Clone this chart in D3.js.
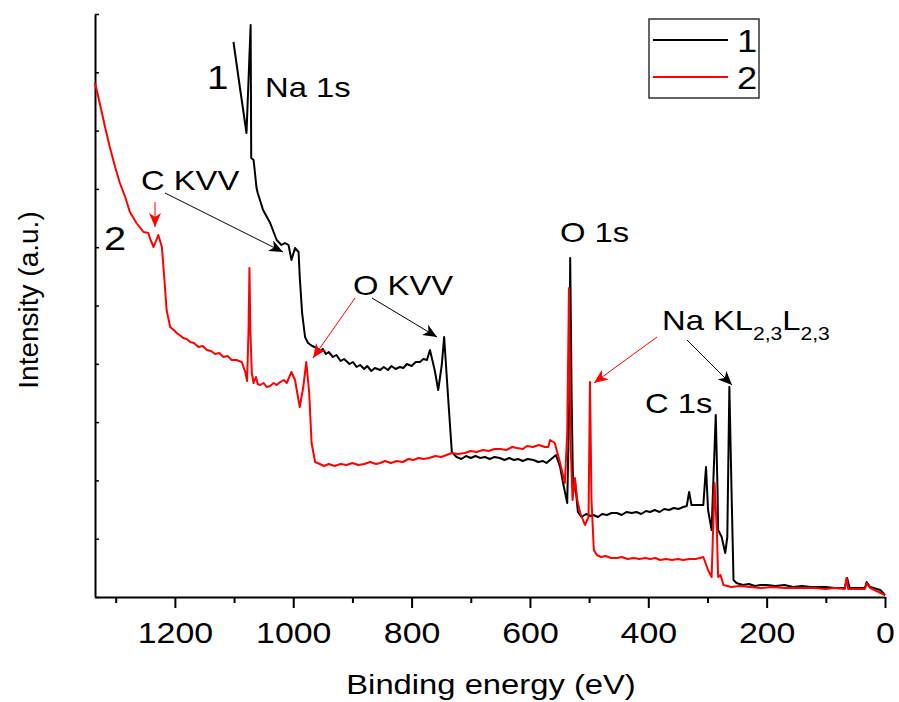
<!DOCTYPE html>
<html>
<head>
<meta charset="utf-8">
<script src="https://cdn.jsdelivr.net/npm/d3@7"></script>
<style>
  body { margin: 0; background: #fff; }
  text { font-family: "Liberation Sans", Arial, sans-serif; fill: #000; }
</style>
</head>
<body>
<svg id="chart" width="899" height="702"></svg>
<script>
// sample 1 (black), binding energy in eV and intensity in a.u.
const energy1 = [
  1101, 1090, 1079, 1072, 1071, 1067, 1062, 1060, 1051, 1039,
  1028, 1020, 1014, 1008, 1003, 997, 991, 989, 985, 980,
  975, 968, 960, 955, 950, 945, 940, 933, 927, 920,
  914, 905, 899, 893, 887, 880, 875, 868, 862, 853,
  847, 840, 834, 827, 820, 814, 808, 800, 793, 786,
  780, 774, 769, 761, 755, 749, 745, 738, 732, 724,
  716, 708, 700, 692, 684, 676, 668, 660, 651, 643,
  635, 627, 620, 612, 604, 594, 586, 578, 572, 566,
  556, 549, 544, 537, 533.5, 532, 529.5, 527, 524, 519,
  513, 505, 498, 493, 485, 478, 470, 462, 453, 445,
  437, 428, 420, 412, 404, 397, 389, 381, 373, 365,
  357, 349, 341, 335, 331, 327, 307, 302.5, 299, 293,
  290, 286, 283, 282, 276, 270, 266.5, 263, 259, 256,
  251, 240, 230, 220, 210, 200, 185, 170, 155, 140,
  125, 115, 100, 85, 68, 64, 60, 34, 31, 25,
  8, 0];
const counts1 = [
  555, 509, 464, 572, 439, 437, 409, 404, 387, 374,
  357, 352, 354, 352, 337, 349, 345, 320, 284, 260,
  254, 251, 249, 246, 248, 243, 245, 240, 242, 236,
  238, 233, 235, 230, 232, 228, 231, 226, 229, 227,
  230, 227, 231, 228, 230, 229, 233, 231, 235, 235,
  238, 237, 247, 227, 207, 232, 260, 197, 145, 140,
  138, 141, 139, 141, 139, 140, 138, 140, 139, 137,
  139, 137, 138, 136, 138, 137, 135, 136, 134, 137,
  142, 130, 114, 94, 197, 339, 197, 104, 117, 85,
  80, 83, 81, 82, 80, 83, 82, 84, 84, 82,
  85, 84, 85, 83, 86, 85, 87, 85, 88, 87,
  89, 88, 90, 91, 105, 92, 92, 130, 87, 67,
  117, 182, 107, 67, 60, 44, 60, 210, 97, 17,
  14, 12, 13, 11, 12, 12, 11, 12, 10, 11,
  10, 10, 10, 9, 9, 19, 9, 9, 15, 10,
  7, 2];

// sample 2 (red)
const energy2 = [
  1335, 1327, 1318, 1310, 1301, 1293, 1284, 1276, 1265, 1253,
  1245, 1241, 1236, 1228, 1222, 1218, 1214, 1208, 1200, 1197,
  1190, 1186, 1180, 1174, 1168, 1160, 1153, 1146, 1139, 1132,
  1125, 1118, 1111, 1104, 1096, 1087, 1081, 1078, 1075.5, 1074,
  1072.5, 1070, 1067, 1063, 1060, 1056, 1050, 1045, 1039, 1033,
  1028, 1022, 1016, 1011, 1003, 997, 989, 983, 978, 973,
  969, 963, 955, 948, 940, 930, 920, 910, 900, 890,
  880, 870, 860, 853, 845, 835, 825, 815, 805, 797,
  788, 780, 770, 760, 750, 741, 732, 722, 710, 700,
  690, 679, 670, 660, 650, 640, 630, 622, 612, 605,
  595, 585, 575, 569, 566, 558, 549, 541, 537, 534,
  531, 528, 524, 520, 515, 507, 501, 498.5, 496, 492,
  487, 480, 472, 463, 453, 445, 435, 425, 415, 405,
  397, 388, 380, 370, 360, 350, 341, 330, 320, 313,
  307, 299, 293, 288, 284, 282, 278, 273, 260, 245,
  228, 210, 190, 170, 144, 120, 100, 85, 68, 65,
  62, 34, 31, 25, 0];
const counts2 = [
  514, 494, 470, 450, 430, 414, 400, 385, 374, 365,
  364, 357, 350, 362, 350, 320, 287, 270, 266, 264,
  261, 259, 258, 255, 254, 250, 251, 247, 246, 243,
  244, 240, 241, 237, 237, 235, 225, 216, 267, 329,
  267, 224, 214, 220, 213, 212, 214, 210, 211, 214,
  212, 215, 217, 214, 225, 217, 190, 210, 235, 204,
  154, 135, 133, 131, 133, 131, 133, 132, 134, 132,
  133, 135, 133, 134, 136, 134, 136, 135, 138, 137,
  139, 138, 139, 141, 140, 142, 144, 143, 144, 146,
  145, 147, 146, 148, 148, 147, 150, 149, 148, 151,
  150, 152, 150, 150, 157, 154, 134, 114, 164, 309,
  147, 97, 119, 97, 84, 72, 80, 215, 97, 47,
  42, 40, 41, 39, 39, 40, 38, 39, 38, 39,
  38, 39, 37, 38, 37, 38, 37, 38, 38, 39,
  40, 27, 20, 114, 64, 20, 22, 12, 10, 11,
  10, 9, 10, 9, 9, 9, 8, 9, 8, 19,
  8, 8, 14, 9, 2];

const xMajorTicks = [0, 200, 400, 600, 800, 1000, 1200];
const xMinorTicks = [100, 300, 500, 700, 900, 1100, 1300];
const seriesNames = ["1", "2"];
const seriesColors = ["#000000", "#ff0000"];

const svg = d3.select("#chart");
const stretch = 1.17; // the original figure is wider than its fonts

const xScale = d3.scaleLinear().domain([1335, 0]).range([95, 885]);
const yScale = d3.scaleLinear().domain([0, 583]).range([597, 14]);

// arrow heads
const defs = svg.append("defs");
seriesColors.forEach((c, i) => {
  defs.append("marker")
    .attr("id", "arrow" + i)
    .attr("markerUnits", "userSpaceOnUse")
    .attr("markerWidth", 16)
    .attr("markerHeight", 12)
    .attr("refX", 14)
    .attr("refY", 6)
    .attr("orient", "auto")
    .append("path")
    .attr("d", "M0,0 L14,6 L0,12 L4,6 Z")
    .attr("fill", c);
});

// axes
const minorAxis = svg.append("g")
  .attr("transform", `translate(0,${yScale(0)})`)
  .call(d3.axisBottom(xScale).tickValues(xMinorTicks).tickSize(6).tickFormat(""));
minorAxis.select(".domain").remove();
minorAxis.selectAll("line").attr("stroke-width", 2);

const xAxisG = svg.append("g")
  .attr("transform", `translate(0,${yScale(0)})`)
  .call(d3.axisBottom(xScale).tickValues(xMajorTicks).tickSize(11).tickSizeOuter(0).tickFormat(d3.format("d")));
xAxisG.select(".domain").attr("stroke-width", 2);
xAxisG.selectAll("line").attr("stroke-width", 2);
xAxisG.selectAll("text")
  .attr("y", 46)
  .attr("dy", null)
  .attr("transform", "scale(1.13,1)")
  .style("font-size", "30px")
  .attr("fill", "#000");

const yAxisG = svg.append("g")
  .attr("transform", `translate(${xScale(1335)},0)`)
  .call(d3.axisLeft(yScale).tickValues(d3.range(0, 11).map(i => i * 58.3)).tickSize(-4).tickSizeOuter(0).tickFormat(""));
yAxisG.select(".domain").attr("stroke-width", 2);
yAxisG.selectAll("line").attr("stroke-width", 1.5);

// axis titles
svg.append("text")
  .attr("transform", `translate(491,694) scale(${stretch},1)`)
  .attr("text-anchor", "middle")
  .style("font-size", "28px")
  .text("Binding energy (eV)");

svg.append("text")
  .attr("transform", "translate(38,300) rotate(-90)")
  .attr("text-anchor", "middle")
  .style("font-size", "28px")
  .text("Intensity (a.u.)");

// spectra
const line = d3.line().x(d => xScale(d[0])).y(d => yScale(d[1]));
const series = [d3.zip(energy1, counts1), d3.zip(energy2, counts2)];
series.forEach((s, i) => {
  svg.append("path")
    .datum(s)
    .attr("fill", "none")
    .attr("stroke", seriesColors[i])
    .attr("stroke-width", 2)
    .attr("stroke-linejoin", "round")
    .attr("d", line);
});

// labels
function label(x, y, txt, size) {
  return svg.append("text")
    .attr("transform", `translate(${x},${y}) scale(${stretch},1)`)
    .style("font-size", size + "px")
    .text(txt);
}
label(207, 89, "1", 33);
label(104, 250, "2", 34);
label(265, 97, "Na 1s", 28);
label(141, 190, "C KVV", 28);
label(353, 295, "O KVV", 28);
label(560, 242, "O 1s", 28);
label(645, 413, "C 1s", 28);
const naLabel = label(662, 330, "Na KL", 28);
naLabel.append("tspan").attr("dy", 10).style("font-size", "18px").text("2,3");
naLabel.append("tspan").attr("dy", -10).text("L");
naLabel.append("tspan").attr("dy", 10).style("font-size", "18px").text("2,3");

// arrows
function arrow(x1, y1, x2, y2, i) {
  svg.append("line")
    .attr("x1", x1).attr("y1", y1).attr("x2", x2).attr("y2", y2)
    .attr("stroke", seriesColors[i])
    .attr("stroke-width", 1)
    .attr("marker-end", `url(#arrow${i})`);
}
arrow(165, 193, 283, 252, 0);
arrow(155, 202, 155, 227, 1);
arrow(355, 298, 313, 358, 1);
arrow(372, 298, 437, 337, 0);
arrow(657, 337, 594, 383, 1);
arrow(687, 340, 732, 385, 0);

// legend
const legend = svg.append("g");
legend.append("rect")
  .attr("x", 649).attr("y", 19).attr("width", 110).attr("height", 79)
  .attr("fill", "#fff").attr("stroke", "#333").attr("stroke-width", 1.5);
seriesNames.forEach((n, i) => {
  const ly = 40 + i * 37;
  legend.append("line")
    .attr("x1", 653).attr("x2", 728).attr("y1", ly).attr("y2", ly)
    .attr("stroke", seriesColors[i]).attr("stroke-width", 2);
  legend.append("text")
    .attr("transform", `translate(737,${ly + 12}) scale(${stretch},1)`)
    .style("font-size", "31px")
    .text(n);
});
</script>
</body>
</html>
